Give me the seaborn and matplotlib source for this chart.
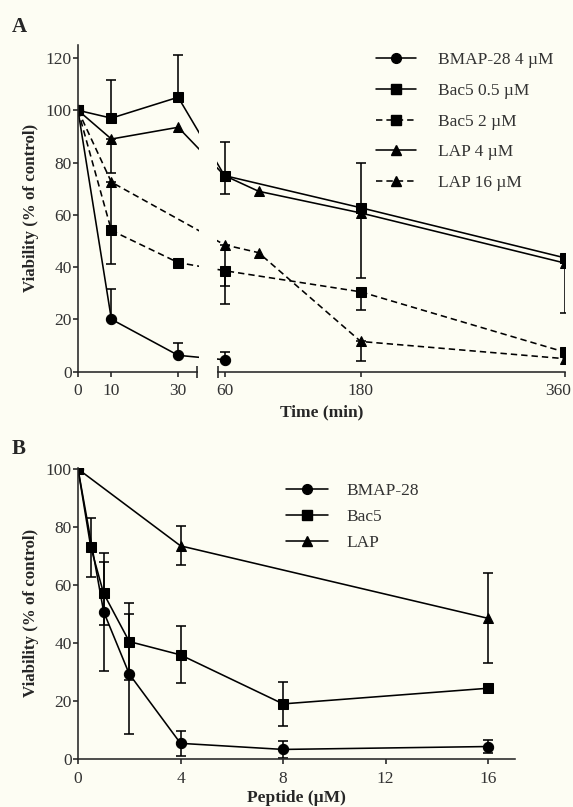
import numpy as np
import pandas as pd
import matplotlib
matplotlib.use("Agg")
import matplotlib.pyplot as plt
import matplotlib.transforms as mtransforms
import seaborn as sns
from matplotlib.lines import Line2D
from matplotlib.patches import Rectangle

# ---------------- Panel A data (time course) ----------------
a_labels = ["BMAP-28 4 µM", "Bac5 0.5 µM", "Bac5 2 µM", "LAP 4 µM", "LAP 16 µM"]
time_bmap = [0, 10, 30, 60]
via_bmap = [100, 20, 6.2, 4.5]
err_bmap = [0, 11.5, 4.6, 3.0]

time_bac5_05 = [0, 10, 30, 60, 180, 360]
via_bac5_05 = [100, 97, 105, 75, 62.7, 43.5]
err_bac5_05 = [0, 14.5, 16, 13, 17, 0]

time_bac5_2 = [0, 10, 30, 60, 180, 360]
via_bac5_2 = [100, 54, 41.7, 38.6, 30.5, 7.4]
err_bac5_2 = [0, 13, 0, 12.8, 7, 0]

time_lap4 = [0, 10, 30, 60, 90, 180, 360]
via_lap4 = [100, 89, 93.5, 75, 69, 60.7, 41.5]
err_lap4 = [0, 13, 0, 7, 0, 25, 19]

time_lap16 = [0, 10, 60, 90, 180, 360]
via_lap16 = [100, 72.5, 48.5, 45.5, 11.5, 4.9]
err_lap16 = [0, 18, 15.8, 0, 7.3, 0]

a_err_side = ["above", "above", "below", "below", "below"]
a_xticks = [0, 10, 30, 60, 180, 360]
a_yticks = [0, 20, 40, 60, 80, 100, 120]

# ---------------- Panel B data (dose response) ----------------
b_labels = ["BMAP-28", "Bac5", "LAP"]
conc_bmap = [0, 1, 2, 4, 8, 16]
via_bmap_b = [100, 50.8, 29.3, 5.4, 3.3, 4.3]
err_bmap_b = [0, 20.4, 20.7, 4.2, 3.0, 2.3]

conc_bac5 = [0, 0.5, 1, 2, 4, 8, 16]
via_bac5_b = [100, 73, 57.1, 40.5, 35.9, 19, 24.4]
err_bac5_b = [0, 10.2, 10.9, 13.4, 9.8, 7.6, 0]

conc_lap = [0, 4, 16]
via_lap_b = [100, 73.5, 48.5]
err_lap_b = [0, 6.7, 15.5]

b_xticks = [0, 4, 8, 12, 16]
b_yticks = [0, 20, 40, 60, 80, 100]

# ---------------- style ----------------
BG = "#fdfdf3"
sns.set_style("ticks")
plt.rcParams["font.family"] = ["Liberation Serif", "DejaVu Serif"]
plt.rcParams["axes.linewidth"] = 1.15
plt.rcParams["xtick.major.width"] = 1.15
plt.rcParams["ytick.major.width"] = 1.15
plt.rcParams["xtick.minor.width"] = 1.15
plt.rcParams["xtick.color"] = "#222222"
plt.rcParams["ytick.color"] = "#222222"

DASH = (0, (4, 2.5))
styles_a = [("o", "-"), ("s", "-"), ("s", DASH), ("^", "-"), ("^", DASH)]
styles_b = [("o", "-"), ("s", "-"), ("^", "-")]
MS = {"o": 7.4, "s": 7.6, "^": 7.4}
TICKFS = 12.5

fig = plt.figure(figsize=(5.73, 8.07), dpi=100, facecolor=BG)
W, H = 573.0, 807.0
axA = fig.add_axes([78 / W, (H - 371.5) / H, 487 / W, 326.5 / H])
axB = fig.add_axes([78 / W, 48 / H, 437 / W, 291.45 / H])
for ax in (axA, axB):
    ax.set_facecolor(BG)

# broken time axis (pixels per minute on each side of the break)
K1, K2, TB = 10 / 3, 1.1333, 35.6


def fwd(t):
    t = np.asarray(t, dtype=float)
    return np.where(t <= TB, K1 * t, K1 * TB + K2 * (t - TB))


def inv(u):
    u = np.asarray(u, dtype=float)
    return np.where(u <= K1 * TB, u / K1, TB + (u - K1 * TB) / K2)


axA.set_xscale("function", functions=(fwd, inv))


def draw_series(ax, x, y, e, marker, ls, side):
    df = pd.DataFrame({"x": x, "y": y})
    sns.lineplot(data=df, x="x", y="y", ax=ax, color="black", marker=marker,
                 markersize=MS[marker], markeredgecolor="black", markerfacecolor="black",
                 linewidth=1.15, linestyle=ls, errorbar=None, legend=False, zorder=2)
    e = np.asarray(e, dtype=float)
    if side == "above":
        yerr = [np.zeros_like(e), e]
    elif side == "below":
        yerr = [e, np.zeros_like(e)]
    else:
        yerr = [e, e]
    m = e > 0
    ax.errorbar(np.asarray(x)[m], np.asarray(y)[m], yerr=[yerr[0][m], yerr[1][m]],
                fmt="none", ecolor="black", elinewidth=1.15, capsize=3.8, capthick=1.15, zorder=2)


a_series = [(time_bmap, via_bmap, err_bmap), (time_bac5_05, via_bac5_05, err_bac5_05),
            (time_bac5_2, via_bac5_2, err_bac5_2), (time_lap4, via_lap4, err_lap4),
            (time_lap16, via_lap16, err_lap16)]
for (x, y, e), (mk, ls), side in zip(a_series, styles_a, a_err_side):
    draw_series(axA, x, y, e, mk, ls, side)

b_series = [(conc_bmap, via_bmap_b, err_bmap_b), (conc_bac5, via_bac5_b, err_bac5_b),
            (conc_lap, via_lap_b, err_lap_b)]
for (x, y, e), (mk, ls) in zip(b_series, styles_b):
    draw_series(axB, x, y, e, mk, ls, "both")

# axes A
axA.set_xlim(0, 360)
axA.set_ylim(0, 125)
axA.set_xticks(a_xticks)
axA.set_xticklabels([str(v) for v in a_xticks])
axA.set_yticks(a_yticks)
axA.set_xticks([float(TB), float(inv(140.0))], minor=True)
axA.tick_params(axis="x", which="minor", direction="inout", length=8)
# gap of the broken axis
xt = axA.get_xaxis_transform()
g0, g1 = float(inv(120.5)), float(inv(138.5))
axA.add_patch(Rectangle((g0, 0.004), g1 - g0, 1.0, transform=xt, facecolor=BG,
                        edgecolor="none", zorder=2.6, clip_on=False))
s0, s1 = float(inv(119.6)), float(inv(139.2))
axA.add_patch(Rectangle((s0, -0.03), s1 - s0, 0.035, transform=xt, facecolor=BG,
                        edgecolor="none", zorder=2.6, clip_on=False))
axA.set_xlabel("Time (min)", fontsize=12.5, fontweight="bold", labelpad=4)

# axes B
axB.set_xlim(0, 17.05)
axB.set_ylim(0, 100.5)
axB.set_xticks(b_xticks)
axB.set_yticks(b_yticks)
axB.set_xlabel("Peptide (µM)", fontsize=12.5, fontweight="bold", labelpad=2)

for ax in (axA, axB):
    sns.despine(ax=ax)
    ax.set_ylabel("Viability (% of control)", fontsize=12.2, fontweight="bold", labelpad=5)
    ax.tick_params(axis="y", which="major", direction="out", length=3.5, labelsize=TICKFS, pad=1)
    ax.tick_params(axis="x", which="major", direction="out", length=3.5, labelsize=TICKFS, pad=5)
    for lab in ax.get_xticklabels() + ax.get_yticklabels():
        lab.set_color("#333333")

# keep the last time label inside the picture
last = axA.get_xticklabels()[-1]
last.set_transform(last.get_transform() + mtransforms.ScaledTranslation(-7 / 100, 0, fig.dpi_scale_trans))

# legends
def handles(styles):
    return [Line2D([], [], color="black", marker=mk, markersize=MS[mk] * 0.95, linestyle=ls,
                   linewidth=1.15, markeredgecolor="black") for mk, ls in styles]

legA = axA.legend(handles(styles_a), a_labels, loc="upper left",
                  bbox_to_anchor=(376 / W, (H - 52) / H), bbox_transform=fig.transFigure,
                  frameon=False, fontsize=TICKFS, handlelength=2.3, handletextpad=1.3,
                  labelspacing=0.84, borderpad=0, borderaxespad=0)
legB = axB.legend(handles(styles_b), b_labels, loc="upper left",
                  bbox_to_anchor=(286 / W, (H - 483) / H), bbox_transform=fig.transFigure,
                  frameon=False, fontsize=TICKFS, handlelength=2.4, handletextpad=1.1,
                  labelspacing=0.56, borderpad=0, borderaxespad=0)
for leg in (legA, legB):
    for t in leg.get_texts():
        t.set_color("#333333")

fig.text(12 / W, 1 - 32 / H, "A", fontsize=15, fontweight="bold")
fig.text(12 / W, 1 - 454 / H, "B", fontsize=15, fontweight="bold")

fig.savefig("out.png", dpi=100, facecolor=BG)
